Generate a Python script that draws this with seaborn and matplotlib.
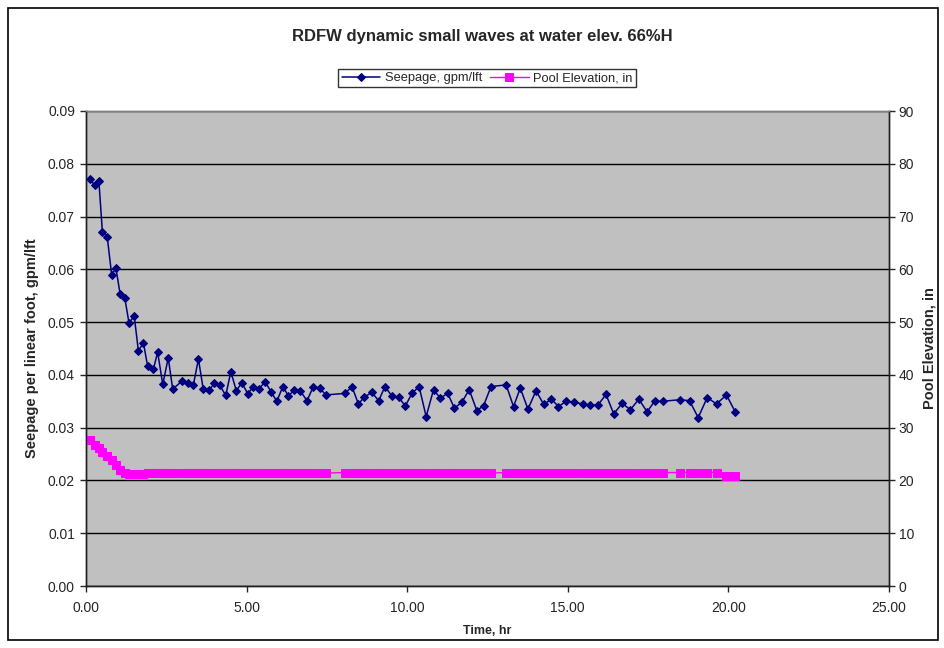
import numpy as np
import pandas as pd
import matplotlib
matplotlib.use('Agg')
import matplotlib.pyplot as plt
import seaborn as sns
from matplotlib.patches import Rectangle
from matplotlib.ticker import MultipleLocator, FormatStrFormatter

# time of each reading, hr
time_hr = [0.12, 0.28, 0.40, 0.51, 0.66, 0.80, 0.93, 1.06, 1.21, 1.34,
           1.50, 1.63, 1.79, 1.92, 2.10, 2.23, 2.39, 2.56, 2.70, 3.00,
           3.17, 3.34, 3.50, 3.65, 3.84, 4.00, 4.17, 4.35, 4.51, 4.68,
           4.85, 5.04, 5.21, 5.39, 5.58, 5.76, 5.94, 6.13, 6.30, 6.49,
           6.67, 6.88, 7.08, 7.27, 7.47, 8.07, 8.28, 8.48, 8.67, 8.90,
           9.11, 9.31, 9.52, 9.73, 9.94, 10.15, 10.37, 10.59, 10.82, 11.03,
           11.26, 11.47, 11.70, 11.93, 12.17, 12.38, 12.61, 13.08, 13.31, 13.52,
           13.76, 14.01, 14.25, 14.49, 14.71, 14.95, 15.20, 15.46, 15.70, 15.94,
           16.19, 16.43, 16.69, 16.95, 17.21, 17.47, 17.70, 17.95, 18.50, 18.79,
           19.06, 19.34, 19.63, 19.94, 20.22]

# seepage, gpm/lft
seepage = [0.0771, 0.0759, 0.0768, 0.0671, 0.0662, 0.0589, 0.0603, 0.0554, 0.0545, 0.0498,
           0.0512, 0.0446, 0.0460, 0.0416, 0.0411, 0.0443, 0.0382, 0.0432, 0.0373, 0.0389,
           0.0385, 0.0380, 0.0430, 0.0373, 0.0371, 0.0385, 0.0380, 0.0361, 0.0406, 0.0370,
           0.0385, 0.0364, 0.0378, 0.0374, 0.0387, 0.0368, 0.0350, 0.0378, 0.0360, 0.0372,
           0.0370, 0.0351, 0.0378, 0.0375, 0.0362, 0.0365, 0.0378, 0.0345, 0.0358, 0.0367,
           0.0351, 0.0378, 0.0360, 0.0358, 0.0341, 0.0365, 0.0378, 0.0321, 0.0372, 0.0356,
           0.0365, 0.0337, 0.0348, 0.0372, 0.0332, 0.0342, 0.0378, 0.0381, 0.0340, 0.0375,
           0.0335, 0.0370, 0.0344, 0.0354, 0.0340, 0.0350, 0.0348, 0.0345, 0.0343, 0.0343,
           0.0363, 0.0326, 0.0346, 0.0334, 0.0354, 0.0330, 0.0350, 0.0350, 0.0353, 0.0351,
           0.0319, 0.0357, 0.0345, 0.0362, 0.0329]

# pool elevation, in
pool = [27.6, 26.8, 26.1, 25.3, 24.6, 23.8, 22.9, 22.0, 21.5, 21.3,
        21.3, 21.3, 21.3, 21.4, 21.4, 21.4, 21.4, 21.4, 21.4, 21.5,
        21.5, 21.5, 21.5, 21.5, 21.5, 21.5, 21.5, 21.5, 21.5, 21.5,
        21.5, 21.5, 21.5, 21.5, 21.5, 21.4, 21.4, 21.4, 21.4, 21.4,
        21.4, 21.4, 21.4, 21.4, 21.4, 21.5, 21.5, 21.5, 21.5, 21.5,
        21.5, 21.5, 21.5, 21.5, 21.5, 21.5, 21.4, 21.4, 21.4, 21.4,
        21.4, 21.4, 21.4, 21.4, 21.4, 21.4, 21.4, 21.5, 21.5, 21.5,
        21.5, 21.5, 21.5, 21.5, 21.4, 21.4, 21.4, 21.4, 21.4, 21.4,
        21.4, 21.4, 21.4, 21.4, 21.5, 21.5, 21.5, 21.5, 21.5, 21.5,
        21.5, 21.5, 21.5, 20.9, 20.9]

df = pd.DataFrame({'time': time_hr, 'seepage': seepage, 'pool': pool})

sns.set_style('white')
plt.rcParams['font.family'] = ['Liberation Sans', 'DejaVu Sans']

fig = plt.figure(figsize=(9.45, 6.48), dpi=100)
ax = fig.add_axes([86/945, 1-586/648, (889-86)/945, (586-111)/648])
ax.set_facecolor('#C0C0C0')

# chart border round the whole figure
fig.patches.append(Rectangle((8/945, 8/648), 930/945, 632/648, transform=fig.transFigure,
                             fill=False, edgecolor='black', linewidth=1.2))

sns.lineplot(data=df, x='time', y='seepage', ax=ax, color='#000080', marker='D',
             markersize=4.5, markeredgecolor='#000080', linewidth=1.1, sort=False,
             label='Seepage, gpm/lft', legend=False)
ax2 = ax.twinx()
sns.lineplot(data=df, x='time', y='pool', ax=ax2, color='#FF00FF', marker='s',
             markersize=5.5, markeredgecolor='#FF00FF', linewidth=1.0, sort=False,
             label='Pool Elevation, in', legend=False)

ax.set_xlim(0, 25)
ax.set_ylim(0, 0.09)
ax2.set_ylim(0, 90)
ax.xaxis.set_major_locator(MultipleLocator(5))
ax.xaxis.set_major_formatter(FormatStrFormatter('%.2f'))
ax.yaxis.set_major_locator(MultipleLocator(0.01))
ax.yaxis.set_major_formatter(FormatStrFormatter('%.2f'))
ax2.yaxis.set_major_locator(MultipleLocator(10))

ax.grid(axis='y', color='black', linewidth=1.0)
ax.set_axisbelow(True)

for a in (ax, ax2):
    for s in a.spines.values():
        s.set_color('#202020')
        s.set_linewidth(1.0)
    a.spines['top'].set_color('#808080')
ax.tick_params(axis='both', direction='out', length=4, width=1, labelsize=10, pad=4,
               left=True, bottom=True)
ax.tick_params(axis='x', pad=7)
ax2.tick_params(axis='y', direction='out', length=4, width=1, labelsize=10, pad=3, right=True)

ax.set_xlabel('Time, hr', fontsize=9, fontweight='bold', labelpad=7)
ax.set_ylabel('Seepage per linear foot, gpm/lft', fontsize=10.5, fontweight='bold', labelpad=6)
ax2.set_ylabel('Pool Elevation, in', fontsize=10.5, fontweight='bold', labelpad=6)

fig.text(0.51, 1-36/648, 'RDFW dynamic small waves at water elev. 66%H',
         ha='center', va='center', fontsize=12, fontweight='bold')

h1, l1 = ax.get_legend_handles_labels()
h2, l2 = ax2.get_legend_handles_labels()
leg = fig.legend(h1 + h2, l1 + l2, loc='center', bbox_to_anchor=(487/945, 1-78/648),
                 ncol=2, fontsize=9.3, frameon=True, fancybox=False, handlelength=3,
                 columnspacing=0.6, handletextpad=0.35, borderpad=0.25, borderaxespad=0)
leg.get_frame().set_edgecolor('black')
leg.get_frame().set_linewidth(1.0)

fig.savefig('out.png', dpi=100, facecolor='white')
